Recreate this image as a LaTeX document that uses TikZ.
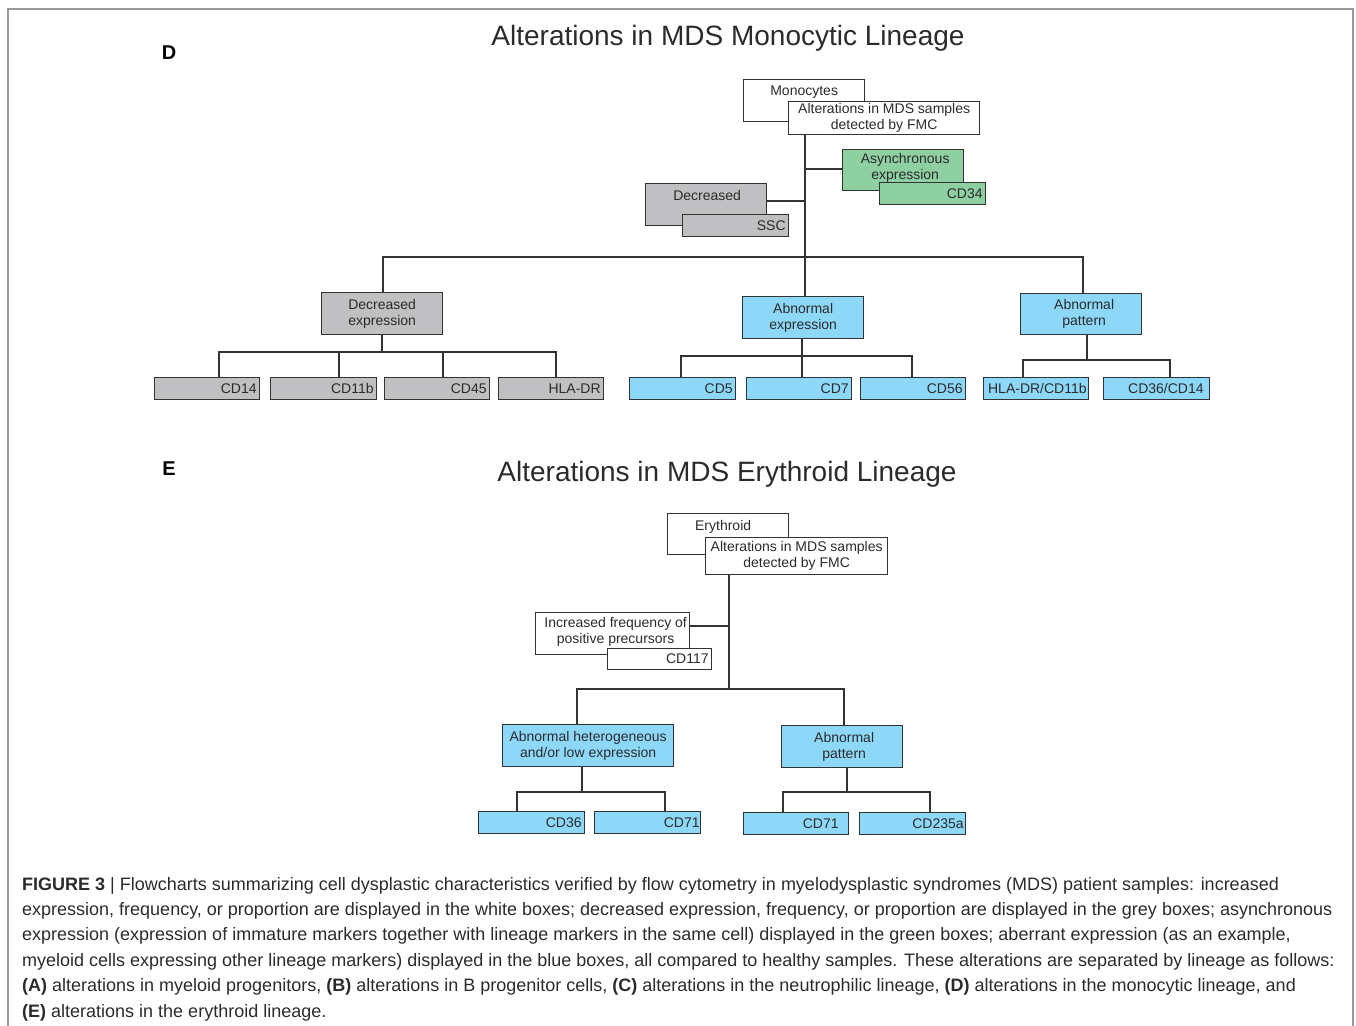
\documentclass[tikz,border=0pt]{standalone}
\usepackage{fontspec}
\setmainfont{Liberation Sans}
\definecolor{linec}{HTML}{333333}
\definecolor{txtc}{HTML}{2B2B2B}
\definecolor{greyc}{HTML}{C0C0C2}
\definecolor{greenc}{HTML}{8FD0A3}
\definecolor{bluec}{HTML}{8DD8F8}
\definecolor{framec}{HTML}{9A9A9A}
\newcommand\bxfont{\fontsize{14}{16}\selectfont}
\newcommand\ttlfont{\fontsize{28}{32}\selectfont}
\newcommand\capfont{\fontsize{18}{25.4}\selectfont}
\begin{document}
\begin{tikzpicture}[x=1pt,y=-1pt,
  bx/.style={draw=linec, line width=1.3pt, inner sep=2pt, font=\bxfont, text=txtc, anchor=north west, align=center},
  wbox/.style={bx, fill=white},
  gbox/.style={bx, fill=greyc},
  grbox/.style={bx, fill=greenc},
  bbox/.style={bx, fill=bluec},
  leaf/.style={align=right, inner xsep=3pt},
  lbl/.style={font=\bxfont, text=txtc, inner sep=0pt},
  conn/.style={draw=linec, line width=1.3pt},
  ttl/.style={font=\ttlfont, text=txtc},
  panel/.style={font=\fontsize{20}{24}\selectfont\bfseries, text=black},
  capl/.style={font=\capfont, text=txtc, anchor=base west, inner sep=0pt}
]
\useasboundingbox (0,0) rectangle (1356,1025);
% frame
\draw[framec, line width=1.6pt] (8,1030) -- (8,9) -- (1353,9) -- (1353,1030);

% ===== Panel D =====
\node[panel] (pD) at (169,53) {D};
\node[ttl] (tD) at (728,38) {Alterations in MDS Monocytic Lineage};

\node[wbox, minimum width=121, minimum height=42] (mono) at (743,79) {};
\node[lbl, anchor=north] (monot) at ([yshift=-7]mono.north) {Monocytes};
\node[wbox, minimum width=191, minimum height=32] (altD) at (788,101) {Alterations in MDS samples\\detected by FMC};

\node[grbox, minimum width=121, minimum height=41] (asy) at (842,149) {};
\node[lbl, align=center, anchor=north] (asyt) at ([xshift=2,yshift=-4]asy.north) {Asynchronous\\expression};
\node[grbox, leaf, text width=100, minimum width=106, minimum height=22] (cd34) at (879,182) {CD34};

\node[gbox, minimum width=121, minimum height=42] (dec) at (645,183) {};
\node[lbl, anchor=north] (dect) at ([xshift=1,yshift=-7]dec.north) {Decreased};
\node[gbox, leaf, text width=100, minimum width=106, minimum height=22] (ssc) at (682,214) {SSC};

\node[gbox, minimum width=121, minimum height=42] (decexp) at (321,292) {Decreased\\expression};
\node[bbox, minimum width=121, minimum height=42] (abexp) at (742,296) {Abnormal\\expression};
\node[bbox, inner xsep=0pt, minimum width=121, minimum height=41, text width=121] (abpat) at (1020,293) {\hspace*{6pt}Abnormal\\\hspace*{6pt}pattern};

\node[gbox, leaf, text width=99, minimum width=105, minimum height=22] (c14) at (154,377) {CD14};
\node[gbox, leaf, text width=100, minimum width=106, minimum height=22] (c11b) at (270,377) {CD11b};
\node[gbox, leaf, text width=99, minimum width=105, minimum height=22] (c45) at (384,377) {CD45};
\node[gbox, leaf, text width=99, minimum width=105, minimum height=22] (chla) at (498,377) {HLA-DR};

\node[bbox, leaf, text width=100, minimum width=106, minimum height=22] (c5) at (629,377) {CD5};
\node[bbox, leaf, text width=99, minimum width=105, minimum height=22] (c7) at (746,377) {CD7};
\node[bbox, leaf, text width=99, minimum width=105, minimum height=22] (c56) at (860,377) {CD56};

\node[bbox, leaf, inner xsep=2pt, text width=101, minimum width=105, minimum height=22] (chc) at (983,377) {HLA-DR/CD11b};
\node[bbox, leaf, inner xsep=6pt, text width=94, minimum width=106, minimum height=22] (c3614) at (1103,377) {CD36/CD14};

% connectors D
\coordinate (trD) at (805,0);
\coordinate (hD) at (0,257);
\draw[conn] (altD.south -| trD) -- (hD -| trD) -- (abexp.north -| trD);
\coordinate (jA) at (805,169);
\draw[conn] (jA) -- (jA -| asy.west);
\coordinate (jB) at (805,201);
\draw[conn] (jB) -- (jB -| dec.east);
\coordinate (hl) at (383,257);
\coordinate (hr) at (1083,257);
\draw[conn] (decexp.north -| hl) -- (hl) -- (hr) -- (abpat.north -| hr);
% grey children
\coordinate (g0) at (382,352);
\coordinate (g1) at (219,352);
\coordinate (g2) at (339,352);
\coordinate (g3) at (443,352);
\coordinate (g4) at (556,352);
\draw[conn] (decexp.south -| g0) -- (g0);
\draw[conn] (g1 |- c14.north) -- (g1) -- (g4) -- (g4 |- chla.north);
\draw[conn] (g2) -- (g2 |- c11b.north);
\draw[conn] (g3) -- (g3 |- c45.north);
% blue children
\coordinate (b0) at (802,356);
\coordinate (b1) at (681,356);
\coordinate (b3) at (912,356);
\draw[conn] (abexp.south -| b0) -- (b0 |- c7.north);
\draw[conn] (b1 |- c5.north) -- (b1) -- (b3) -- (b3 |- c56.north);
\coordinate (p0) at (1087,360);
\coordinate (p1) at (1023,360);
\coordinate (p2) at (1170,360);
\draw[conn] (abpat.south -| p0) -- (p0);
\draw[conn] (p1 |- chc.north) -- (p1) -- (p2) -- (p2 |- c3614.north);

% ===== Panel E =====
\node[panel] (pE) at (169,469) {E};
\node[ttl] (tE) at (727,474) {Alterations in MDS Erythroid Lineage};

\node[wbox, minimum width=121, minimum height=41] (ery) at (667,513) {};
\node[lbl, anchor=north] (eryt) at ([xshift=-5,yshift=-7]ery.north) {Erythroid};
\node[wbox, minimum width=182, minimum height=37] (altE) at (705,537) {Alterations in MDS samples\\detected by FMC};

\node[wbox, minimum width=154, minimum height=42] (inc) at (535,612) {};
\node[lbl, align=center, anchor=north] (inct) at ([xshift=3,yshift=-5]inc.north) {Increased frequency of\\positive precursors};
\node[wbox, leaf, text width=98, minimum width=104, minimum height=21] (c117) at (607,648) {CD117};

\node[bbox, minimum width=171, minimum height=42] (ahet) at (502,724) {Abnormal heterogeneous\\and/or low expression};
\node[bbox, inner xsep=0pt, minimum width=121, minimum height=42, text width=121] (apatE) at (781,725) {\hspace*{4pt}Abnormal\\\hspace*{4pt}pattern};

\node[bbox, leaf, text width=100, minimum width=106, minimum height=22] (e36) at (478,811) {CD36};
\node[bbox, leaf, inner xsep=1pt, text width=104, minimum width=106, minimum height=22] (e71a) at (594,811) {CD71};
\node[bbox, leaf, inner xsep=10pt, text width=85, minimum width=105, minimum height=22] (e71b) at (743,812) {CD71};
\node[bbox, leaf, inner xsep=2pt, text width=102, minimum width=106, minimum height=22] (e235) at (859,812) {CD235a};

% connectors E
\coordinate (trE) at (729,0);
\coordinate (hE) at (0,689);
\draw[conn] (altE.south -| trE) -- (hE -| trE);
\coordinate (jC) at (729,626);
\draw[conn] (jC) -- (jC -| inc.east);
\coordinate (el) at (577,689);
\coordinate (er) at (844,689);
\draw[conn] (ahet.north -| el) -- (el) -- (er) -- (apatE.north -| er);
\coordinate (l0) at (582,792);
\coordinate (l1) at (517,792);
\coordinate (l2) at (665,792);
\draw[conn] (ahet.south -| l0) -- (l0);
\draw[conn] (l1 |- e36.north) -- (l1) -- (l2) -- (l2 |- e71a.north);
\coordinate (r0) at (847,792);
\coordinate (r1) at (783,792);
\coordinate (r2) at (930,792);
\draw[conn] (apatE.south -| r0) -- (r0);
\draw[conn] (r1 |- e71b.north) -- (r1) -- (r2) -- (r2 |- e235.north);

% ===== Caption =====
\node[capl] (cap1) at (22,890) {\textbf{FIGURE 3} | Flowcharts summarizing cell dysplastic characteristics verified by flow cytometry in myelodysplastic syndromes (MDS) patient samples: increased};
\node[capl] (cap2) at (22,915.4) {expression, frequency, or proportion are displayed in the white boxes; decreased expression, frequency, or proportion are displayed in the grey boxes; asynchronous};
\node[capl] (cap3) at (22,940.8) {expression (expression of immature markers together with lineage markers in the same cell) displayed in the green boxes; aberrant expression (as an example,};
\node[capl] (cap4) at (22,966.2) {myeloid cells expressing other lineage markers) displayed in the blue boxes, all compared to healthy samples. These alterations are separated by lineage as follows:};
\node[capl] (cap5) at (22,991.6) {\textbf{(A)} alterations in myeloid progenitors, \textbf{(B)} alterations in B progenitor cells, \textbf{(C)} alterations in the neutrophilic lineage, \textbf{(D)} alterations in the monocytic lineage, and};
\node[capl] (cap6) at (22,1017) {\textbf{(E)} alterations in the erythroid lineage.};
\end{tikzpicture}
\end{document}
